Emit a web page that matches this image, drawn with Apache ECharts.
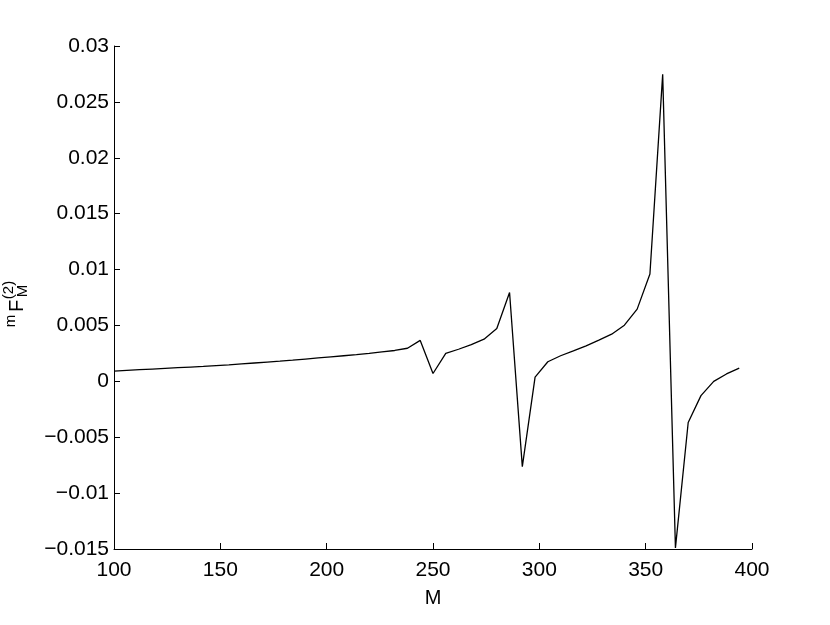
<!DOCTYPE html>
<html>
<head>
<meta charset="utf-8">
<script src="https://cdn.jsdelivr.net/npm/echarts@6/dist/echarts.min.js"></script>
<style>html,body{margin:0;padding:0;background:#fff}#c{width:830px;height:625px}</style>
</head>
<body>
<div id="c"></div>
<script>
var mValues = [100,106,112,118,124,130,136,142,148,154,160,166,172,178,184,190,196,202,208,214,220,226,232,238,244,250,256,262,268,274,280,286,292,298,304,310,316,322,328,334,340,346,352,358,364,370,376,382,388,394];
var fValues = [0.00092,0.00098,0.00104,0.00110,0.00116,0.00122,0.00128,0.00134,0.00141,0.00148,0.00156,0.00164,0.00172,0.00180,0.00189,0.00199,0.00209,0.00219,0.00229,0.00239,0.00250,0.00263,0.00276,0.00296,0.00366,0.00070,0.00250,0.00287,0.00329,0.00377,0.00472,0.00795,-0.00763,0.00038,0.00175,0.00229,0.00273,0.00318,0.00369,0.00422,0.00502,0.00646,0.00960,0.02746,-0.01490,-0.00368,-0.00128,0.00000,0.00066,0.00118];
var xTicks = {min:100, max:400, interval:50};
var yTicks = {min:-0.015, max:0.03, interval:0.005};

var chart = echarts.init(document.getElementById('c'), null, {renderer:'canvas'});
var font = 'Liberation Sans, Arial, Helvetica, sans-serif';
var data = mValues.map(function(m,i){return [m, fValues[i]];});
function fmtY(v){
  var s = String(Number(v.toFixed(4)));
  return s.replace('-', '\u2212');
}
chart.setOption({
  animation:false,
  backgroundColor:'#fff',
  grid:{left:114, right:78, top:46, bottom:76, containLabel:false},
  xAxis:{type:'value', min:xTicks.min, max:xTicks.max, interval:xTicks.interval,
    axisLine:{show:true, onZero:false, lineStyle:{color:'#000', width:1}},
    axisTick:{show:true, inside:true, length:6, lineStyle:{color:'#000'}},
    axisLabel:{color:'#000', fontSize:21, fontFamily:font, margin:11},
    splitLine:{show:false},
    name:'M', nameLocation:'middle', nameGap:39, nameTextStyle:{color:'#000', fontSize:20, fontFamily:font}
  },
  yAxis:{type:'value', min:yTicks.min, max:yTicks.max, interval:yTicks.interval,
    axisLine:{show:true, onZero:false, lineStyle:{color:'#000', width:1}},
    axisTick:{show:true, inside:true, length:6, lineStyle:{color:'#000'}},
    axisLabel:{color:'#000', fontSize:21, fontFamily:font, margin:5, formatter:fmtY},
    splitLine:{show:false}
  },
  graphic:[
    {type:'text', x:11, y:321, rotation:Math.PI/2, style:{text:'m', fontSize:15, fontFamily:font, fill:'#000', textAlign:'center', textVerticalAlign:'middle'}},
    {type:'text', x:17, y:306, rotation:Math.PI/2, style:{text:'F', fontSize:20, fontFamily:font, fill:'#000', textAlign:'center', textVerticalAlign:'middle'}},
    {type:'text', x:9, y:290, rotation:Math.PI/2, style:{text:'(2)', fontSize:15, fontFamily:font, fill:'#000', textAlign:'center', textVerticalAlign:'middle'}},
    {type:'text', x:23, y:291, rotation:Math.PI/2, style:{text:'M', fontSize:15, fontFamily:font, fill:'#000', textAlign:'center', textVerticalAlign:'middle'}}
  ],
  series:[{type:'line', data:data, showSymbol:false, symbol:'none', lineStyle:{color:'#000', width:1.3}}]
});
</script>
</body>
</html>
